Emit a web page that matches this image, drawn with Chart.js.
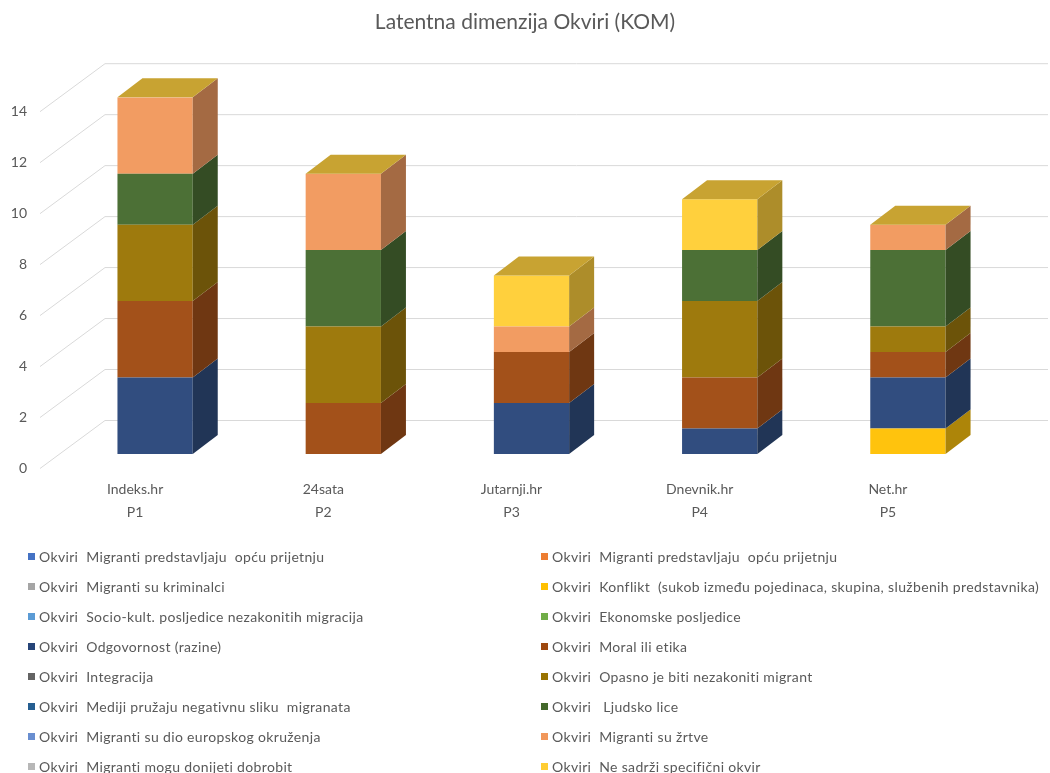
<!DOCTYPE html>
<html>
<head>
<meta charset="utf-8">
<title>Latentna dimenzija Okviri (KOM)</title>
<script src="https://cdn.jsdelivr.net/npm/chart.js@4.4.1/dist/chart.umd.min.js"></script>
<style>
  html, body { margin: 0; padding: 0; background: #ffffff; }
  canvas { display: block; }
</style>
</head>
<body>
<canvas id="chart" width="1050" height="773"></canvas>
<script>
// Categories: portal name + its code (two-level axis)
const portals = ['Indeks.hr', '24sata', 'Jutarnji.hr', 'Dnevnik.hr', 'Net.hr'];
const codes = ['P1', 'P2', 'P3', 'P4', 'P5'];

// Frame names, legend order = stacking order (bottom to top)
const frames = [
  'Okviri  Migranti predstavljaju  opću prijetnju',
  'Okviri  Migranti predstavljaju  opću prijetnju',
  'Okviri  Migranti su kriminalci',
  'Okviri  Konflikt  (sukob između pojedinaca, skupina, službenih predstavnika)',
  'Okviri  Socio-kult. posljedice nezakonitih migracija',
  'Okviri  Ekonomske posljedice',
  'Okviri  Odgovornost (razine)',
  'Okviri  Moral ili etika',
  'Okviri  Integracija',
  'Okviri  Opasno je biti nezakoniti migrant',
  'Okviri  Mediji pružaju negativnu sliku  migranata',
  'Okviri   Ljudsko lice',
  'Okviri  Migranti su dio europskog okruženja',
  'Okviri  Migranti su žrtve',
  'Okviri  Migranti mogu donijeti dobrobit',
  'Okviri  Ne sadrži specifični okvir'
];
const frameColors = [
  '#4472c4', '#ed7d31', '#a5a5a5', '#ffc000', '#5b9bd5', '#70ad47', '#264478', '#9e480e',
  '#636363', '#997300', '#255e91', '#43682b', '#698ed0', '#f1975a', '#b7b7b7', '#ffcd33'
];

// Counts per portal (P1..P5)
const opcaPrijetnjaA = [0, 0, 0, 0, 0];
const opcaPrijetnjaB = [0, 0, 0, 0, 0];
const kriminalci     = [0, 0, 0, 0, 0];
const konflikt       = [0, 0, 0, 0, 1];
const socioKult      = [0, 0, 0, 0, 0];
const ekonomske      = [0, 0, 0, 0, 0];
const odgovornost    = [3, 0, 2, 1, 2];
const moral          = [3, 2, 2, 2, 1];
const integracija    = [0, 0, 0, 0, 0];
const opasno         = [3, 3, 0, 3, 1];
const mediji         = [0, 0, 0, 0, 0];
const ljudskoLice    = [2, 3, 0, 2, 3];
const europsko       = [0, 0, 0, 0, 0];
const zrtve          = [3, 3, 1, 0, 1];
const dobrobit       = [0, 0, 0, 0, 0];
const neSadrzi       = [0, 0, 2, 2, 0];

const seriesValues = [
  opcaPrijetnjaA, opcaPrijetnjaB, kriminalci, konflikt, socioKult, ekonomske, odgovornost, moral,
  integracija, opasno, mediji, ljudskoLice, europsko, zrtve, dobrobit, neSadrzi
];

// y axis
const yMax = 14;
const yStep = 2;

const FONT = 'Lato, "Liberation Sans", sans-serif';
const TEXT = '#595959';
const GRID = '#d9d9d9';
const TOP_FACE = '#c8a332';

// 3D offsets relative to the bar front plane
const DEPTH = { dx: 25, dy: -19 };       // bar depth
const FLOOR_FRONT = { dx: -21, dy: 14 }; // front edge of floor
const BACK_WALL = { dx: 44, dy: -34 };   // back wall

// Colour helpers: lit front face and darker side face
function shade(hex, lift, mul) {
  const n = parseInt(hex.slice(1), 16);
  const ch = [(n >> 16) & 255, (n >> 8) & 255, n & 255]
    .map(c => Math.max(0, Math.min(255, Math.round((c + (255 - c) * lift) * mul))));
  return `rgb(${ch[0]},${ch[1]},${ch[2]})`;
}
const frontColor = (c) => shade(c, 0.05, 1);
const sideColor = (c) => shade(c, 0.05, 0.68);

function poly(ctx, pts, fill) {
  ctx.beginPath();
  ctx.moveTo(pts[0][0], pts[0][1]);
  for (let i = 1; i < pts.length; i++) ctx.lineTo(pts[i][0], pts[i][1]);
  ctx.closePath();
  ctx.fillStyle = fill;
  ctx.fill();
}

// Back wall grid + floor diagonals
const wallGrid = {
  id: 'wallGrid',
  beforeDatasetsDraw(chart) {
    const { ctx, chartArea, scales } = chart;
    const y = scales.y;
    ctx.save();
    ctx.strokeStyle = GRID;
    ctx.lineWidth = 1;
    y.ticks.forEach(t => {
      const py = y.getPixelForValue(t.value);
      const x0 = chartArea.left + FLOOR_FRONT.dx, y0 = py + FLOOR_FRONT.dy;
      const x1 = chartArea.left + BACK_WALL.dx, y1 = py + BACK_WALL.dy;
      ctx.beginPath();
      ctx.moveTo(x0, y0 + 0.5);
      ctx.lineTo(x1, y1 + 0.5);
      ctx.lineTo(chartArea.right + 46, y1 + 0.5);
      ctx.stroke();
    });
    ctx.restore();
  }
};

// Side and top faces of the stacked columns
const columns3d = {
  id: 'columns3d',
  afterDatasetsDraw(chart) {
    const ctx = chart.ctx;
    ctx.save();
    portals.forEach((p, i) => {
      let topEl = null;
      chart.data.datasets.forEach((ds, d) => {
        if (!ds.data[i]) return;
        const el = chart.getDatasetMeta(d).data[i];
        const right = el.x + el.width / 2;
        poly(ctx, [
          [right, el.y], [right + DEPTH.dx, el.y + DEPTH.dy],
          [right + DEPTH.dx, el.base + DEPTH.dy], [right, el.base]
        ], sideColor(frameColors[d]));
        topEl = el;
      });
      if (topEl) {
        const left = topEl.x - topEl.width / 2, right = topEl.x + topEl.width / 2;
        poly(ctx, [
          [left, topEl.y], [left + DEPTH.dx, topEl.y + DEPTH.dy],
          [right + DEPTH.dx, topEl.y + DEPTH.dy], [right, topEl.y]
        ], TOP_FACE);
      }
    });
    ctx.restore();
  }
};

// Legend in two columns under the plot
const twoColumnLegend = {
  id: 'twoColumnLegend',
  afterDraw(chart) {
    const ctx = chart.ctx;
    const firstRow = chart.chartArea.bottom + 103;
    const cols = [28, 541];
    ctx.save();
    ctx.font = `14px ${FONT}`;
    ctx.letterSpacing = '0.35px';
    ctx.textBaseline = 'middle';
    ctx.textAlign = 'left';
    frames.forEach((name, i) => {
      const x = cols[i % 2];
      const y = firstRow + Math.floor(i / 2) * 30;
      ctx.fillStyle = frameColors[i];
      ctx.fillRect(x, y - 4, 7, 7);
      ctx.fillStyle = TEXT;
      ctx.fillText(name, x + 11, y);
    });
    ctx.restore();
  }
};

new Chart(document.getElementById('chart'), {
  type: 'bar',
  data: {
    labels: portals.map((p, i) => [p, codes[i]]),
    datasets: frames.map((name, i) => ({
      label: name,
      data: seriesValues[i],
      backgroundColor: frontColor(frameColors[i]),
      borderWidth: 0,
      barPercentage: 0.4,
      categoryPercentage: 1
    }))
  },
  options: {
    responsive: false,
    animation: false,
    layout: { padding: { left: 0, right: 0, top: 0, bottom: 239 } },
    plugins: {
      legend: { display: false },
      tooltip: { enabled: false },
      title: {
        display: true,
        text: 'Latentna dimenzija Okviri (KOM)',
        color: TEXT,
        font: { family: FONT, size: 21, weight: 'normal' },
        padding: { top: 10, bottom: 62 }
      }
    },
    scales: {
      x: {
        stacked: true,
        grid: { display: false, drawTicks: false },
        border: { display: false },
        ticks: {
          color: TEXT,
          font: { family: FONT, size: 14, lineHeight: 1.643 },
          padding: 24,
          labelOffset: -20,
          maxRotation: 0
        },
        afterFit: (s) => { s.height = 80; }
      },
      y: {
        stacked: true,
        min: 0,
        max: yMax,
        grid: { display: false, drawTicks: false },
        border: { display: false },
        ticks: {
          stepSize: yStep,
          color: TEXT,
          font: { family: FONT, size: 14 },
          padding: 34,
          labelOffset: 14
        },
        afterFit: (s) => { s.width = 61; }
      },
      // empty right margin so the title centres on the whole canvas
      yRight: {
        position: 'right',
        grid: { display: false, drawTicks: false },
        border: { display: false },
        ticks: { display: false },
        afterFit: (s) => { s.width = 48; }
      }
    }
  },
  plugins: [wallGrid, columns3d, twoColumnLegend]
});
</script>
</body>
</html>
